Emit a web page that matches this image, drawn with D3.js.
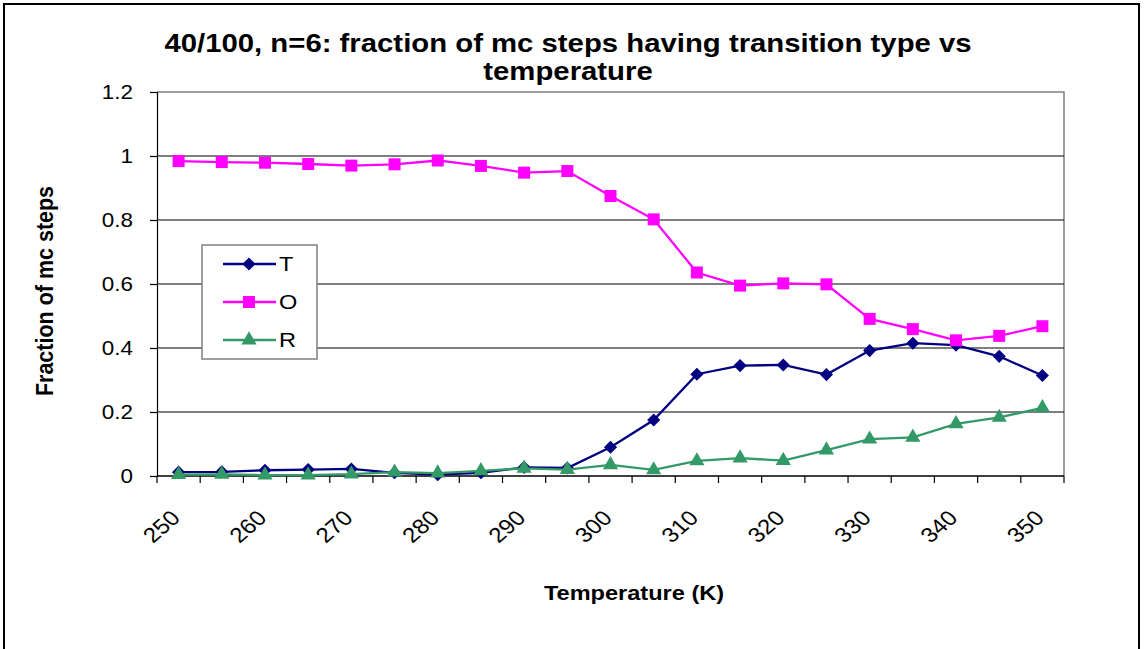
<!DOCTYPE html>
<html><head><meta charset="utf-8">
<script src="https://cdn.jsdelivr.net/npm/d3@7"></script>
<style>
body{margin:0;background:#fff;}
text{font-family:Arial,"Liberation Sans",sans-serif;fill:#000;}
</style></head>
<body><svg id="c" width="1144" height="649"></svg>
<script>
const temps=[250,255,260,265,270,275,280,285,290,295,300,305,310,315,320,325,330,335,340,345,350];
const tickLabels=[250,260,270,280,290,300,310,320,330,340,350];
const yTicks=[0,0.2,0.4,0.6,0.8,1,1.2];
const seriesT=[0.012,0.013,0.018,0.02,0.022,0.01,0.004,0.01,0.027,0.025,0.09,0.175,0.318,0.345,0.347,0.317,0.392,0.415,0.409,0.374,0.314];
const seriesO=[0.984,0.981,0.979,0.975,0.970,0.974,0.986,0.969,0.948,0.953,0.875,0.802,0.636,0.595,0.602,0.599,0.491,0.459,0.424,0.438,0.468];
const seriesR=[0.004,0.005,0.003,0.003,0.006,0.012,0.009,0.016,0.024,0.02,0.035,0.019,0.047,0.056,0.048,0.081,0.115,0.121,0.163,0.183,0.213];
const seriesNames=["T","O","R"];
const colors=["#000080","#FF00FF","#339966"];
const symbols=[d3.symbolDiamond2,d3.symbolSquare,d3.symbolTriangle];
const symSizes=[110,144,100];

const SX=1.15;
const svg=d3.select("#c");
const L=157,R=1064,T=92,B=476;
const x=d3.scaleBand().domain(temps).range([L,R]).padding(0);
const y=d3.scaleLinear().domain([0,1.2]).range([B,T]);

// outer border
svg.append("rect").attr("x",4).attr("y",4).attr("width",1135).attr("height",660)
  .attr("fill","none").attr("stroke","#000").attr("stroke-width",2);

// title
const title=["40/100, n=6: fraction of mc steps having transition type vs","temperature"];
title.forEach((t,i)=>{
  svg.append("text").attr("transform",`translate(568,${52+i*28}) scale(${SX},1)`)
    .attr("text-anchor","middle").attr("font-size",25.5).attr("font-weight","bold").text(t);
});

// plot border (top/right gray)
svg.append("path").attr("d",`M${L},${T}H${R}V${B}`).attr("fill","none").attr("stroke","#808080").attr("stroke-width",1.5);

// gridlines
svg.append("g").selectAll("line").data(yTicks.filter(v=>v>0&&v<1.2)).join("line")
  .attr("x1",L).attr("x2",R).attr("y1",d=>y(d)).attr("y2",d=>y(d))
  .attr("stroke","#000").attr("stroke-width",1.2);

// y axis
const ya=svg.append("g").attr("transform",`translate(${L},0)`)
  .call(d3.axisLeft(y).tickValues(yTicks).tickSize(7).tickFormat(d=>String(+d.toFixed(1))));
ya.select(".domain").attr("stroke","#000").attr("stroke-width",1.2);
ya.selectAll(".tick line").attr("stroke","#000").attr("stroke-width",1.2);
ya.selectAll(".tick text").remove();
ya.selectAll(".tick").append("text")
  .attr("transform",`translate(-24,0) scale(${SX},1)`)
  .attr("text-anchor","end").attr("dy","0.35em").attr("font-size",19.5)
  .text(d=>String(+d.toFixed(1)));

// x axis
const bounds=temps.map(t=>x(t)).concat([R]);
svg.append("line").attr("x1",L).attr("x2",R).attr("y1",B).attr("y2",B).attr("stroke","#000").attr("stroke-width",1.5);
svg.append("g").selectAll("line").data(bounds).join("line")
  .attr("x1",d=>d).attr("x2",d=>d).attr("y1",B).attr("y2",B+7).attr("stroke","#000").attr("stroke-width",1.2);
svg.append("g").selectAll("text").data(tickLabels).join("text")
  .attr("transform",d=>`translate(${x(d)+x.bandwidth()/2-3},${B+38}) scale(${SX},1) rotate(-45)`)
  .attr("text-anchor","end").attr("dy","0.35em").attr("font-size",21).text(d=>d);

// axis titles
svg.append("text").attr("transform",`translate(634,600) scale(${SX},1)`)
  .attr("text-anchor","middle").attr("font-size",20.5).attr("font-weight","bold").text("Temperature (K)");
svg.append("text").attr("transform",`translate(53,291) scale(${SX},1) rotate(-90)`)
  .attr("text-anchor","middle").attr("font-size",21.5).attr("font-weight","bold").text("Fraction of mc steps");

// series
const allSeries=[seriesT,seriesO,seriesR];
const cx=t=>x(t)+x.bandwidth()/2;
allSeries.forEach((s,i)=>{
  const line=d3.line().x((d,j)=>cx(temps[j])).y(d=>y(d));
  svg.append("path").datum(s).attr("d",line).attr("fill","none").attr("stroke",colors[i]).attr("stroke-width",2.3);
  svg.append("g").selectAll("path").data(s).join("path")
    .attr("transform",(d,j)=>`translate(${cx(temps[j])},${y(d)})`)
    .attr("d",d3.symbol().type(symbols[i]).size(symSizes[i])).attr("fill",colors[i]);
});

// legend
const lg=svg.append("g");
lg.append("rect").attr("x",202).attr("y",245).attr("width",115).attr("height",114)
  .attr("fill","#fff").attr("stroke","#808080").attr("stroke-width",1.5);
seriesNames.forEach((n,i)=>{
  const yy=264+i*38;
  lg.append("line").attr("x1",223).attr("x2",276).attr("y1",yy).attr("y2",yy).attr("stroke",colors[i]).attr("stroke-width",2.3);
  lg.append("path").attr("transform",`translate(249,${yy})`).attr("d",d3.symbol().type(symbols[i]).size(symSizes[i])).attr("fill",colors[i]);
  lg.append("text").attr("transform",`translate(279,${yy}) scale(${SX},1)`).attr("dy","0.36em").attr("font-size",20.5).text(n);
});
</script></body></html>
